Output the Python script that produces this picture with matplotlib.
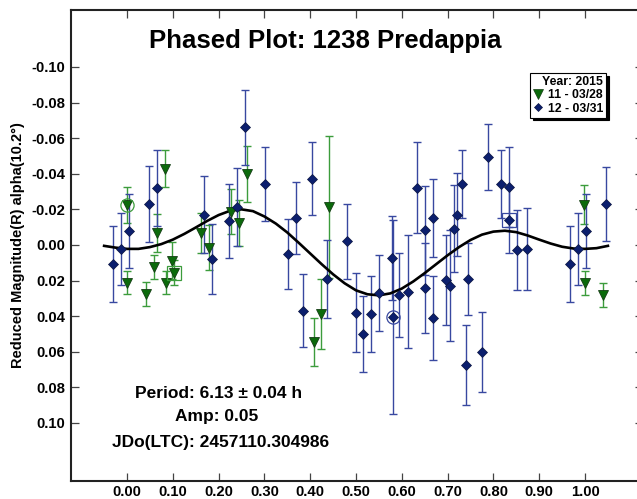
import matplotlib
matplotlib.use('Agg')
import matplotlib.pyplot as plt
from matplotlib.lines import Line2D

plt.rcParams['font.family'] = ['Liberation Sans', 'DejaVu Sans']
plt.rcParams['font.weight'] = 'bold'

# session 12 - 03/31 (blue diamonds)
blue_phase = [-0.031, -0.014, 0.005, 0.048, 0.065, 0.168, 0.186, 0.223, 0.240, 0.257,
              0.301, 0.352, 0.368, 0.385, 0.403, 0.437, 0.481, 0.499, 0.515, 0.533,
              0.550, 0.578, 0.581, 0.594, 0.614, 0.633, 0.650, 0.651, 0.668, 0.669,
              0.697, 0.705, 0.713, 0.721, 0.731, 0.740, 0.745, 0.774, 0.788, 0.816,
              0.834, 0.834, 0.852, 0.873, 0.967, 0.985, 1.002, 1.045]
blue_mag = [0.0107, 0.0023, -0.0081, -0.0230, -0.0322, -0.0170, 0.0080, -0.0133, -0.0212, -0.0661,
            -0.0343, 0.0051, -0.0153, 0.0369, -0.0373, 0.0191, -0.0021, 0.0380, 0.0500, 0.0388,
            0.0270, 0.0071, 0.0403, 0.0281, 0.0262, -0.0322, -0.0083, 0.0242, -0.0153, 0.0410,
            0.0198, 0.0228, -0.0092, -0.0170, -0.0344, 0.0672, 0.0191, 0.0601, -0.0493, -0.0343,
            -0.0324, -0.0140, 0.0028, 0.0022, 0.0109, 0.0022, -0.0081, -0.0230]
blue_err = [0.0211, 0.0203, 0.0208, 0.0213, 0.0213, 0.0215, 0.0198, 0.0208, 0.0218, 0.0211,
            0.0206, 0.0199, 0.0203, 0.0207, 0.0207, 0.0220, 0.0211, 0.0223, 0.0213, 0.0211,
            0.0215, 0.0236, 0.0546, 0.0234, 0.0316, 0.0257, 0.0250, 0.0251, 0.0218, 0.0236,
            0.0253, 0.0310, 0.0246, 0.0232, 0.0190, 0.0225, 0.0201, 0.0224, 0.0185, 0.0190,
            0.0225, 0.0187, 0.0225, 0.0231, 0.0213, 0.0203, 0.0208, 0.0210]

# session 11 - 03/28 (green triangles)
green_phase = [-0.001, 0.001, 0.041, 0.059, 0.065, 0.082, 0.085, 0.098, 0.103, 0.161,
               0.178, 0.226, 0.245, 0.261, 0.408, 0.424, 0.442, 0.998, 0.999, 1.040]
green_mag = [-0.0225, 0.0212, 0.0277, 0.0122, -0.0066, -0.0427, 0.0212, 0.0088, 0.0155, -0.0066,
             0.0015, -0.0187, -0.0125, -0.0399, 0.0543, 0.0388, -0.0215, -0.0225, 0.0215, 0.0281]
green_err = [0.0103, 0.0063, 0.0067, 0.0067, 0.0108, 0.0104, 0.0066, 0.0103, 0.0068, 0.0111,
             0.0125, 0.0126, 0.0129, 0.0157, 0.0135, 0.0198, 0.0398, 0.0110, 0.0066, 0.0067]

# marked points (circle / square)
circ_green = (-0.001, -0.0225)
circ_blue = (0.581, 0.0403)
box_green = (0.103, 0.0155)
box_blue = (0.834, -0.0140)

# fourier fit curve
fit_phase = [-0.050, -0.025, 0.000, 0.025, 0.050, 0.075, 0.100, 0.125, 0.150, 0.175,
             0.200, 0.225, 0.250, 0.275, 0.300, 0.325, 0.350, 0.375, 0.400, 0.425,
             0.450, 0.475, 0.500, 0.525, 0.550, 0.575, 0.600, 0.625, 0.650, 0.675,
             0.700, 0.725, 0.750, 0.775, 0.800, 0.825, 0.850, 0.875, 0.900, 0.925,
             0.950, 0.975, 1.000, 1.025, 1.050]
fit_mag = [0.0005, 0.0015, 0.0022, 0.0022, 0.0012, -0.0005, -0.0030, -0.0062, -0.0098, -0.0135,
           -0.0168, -0.0192, -0.0200, -0.0190, -0.0160, -0.0120, -0.0070, -0.0012, 0.0048, 0.0108,
           0.0165, 0.0215, 0.0255, 0.0277, 0.0283, 0.0272, 0.0245, 0.0205, 0.0158, 0.0108,
           0.0058, 0.0012, -0.0028, -0.0058, -0.0075, -0.0080, -0.0072, -0.0053, -0.0030, -0.0008,
           0.0010, 0.0020, 0.0022, 0.0018, 0.0005]

xticks = [0.0, 0.1, 0.2, 0.3, 0.4, 0.5, 0.6, 0.7, 0.8, 0.9, 1.0]
xtick_labels = ['0.00', '0.10', '0.20', '0.30', '0.40', '0.50', '0.60', '0.70', '0.80', '0.90', '1.00']
yticks = [-0.10, -0.08, -0.06, -0.04, -0.02, 0.0, 0.02, 0.04, 0.06, 0.08, 0.10]
ytick_labels = ['-0.10', '-0.08', '-0.06', '-0.04', '-0.02', '0.00', '0.02', '0.04', '0.06', '0.08', '0.10']

navy = '#0c1f6e'
navy_bar = '#3848a0'
dgreen = '#0b6a0b'
green_bar = '#3c9c3c'

fig = plt.figure(figsize=(6.37, 4.99), dpi=100)
ax = fig.add_axes([71 / 637, 18 / 499, 572 / 637, 471 / 499])

ax.errorbar(green_phase, green_mag, yerr=green_err, fmt='none', ecolor=green_bar,
            elinewidth=1.0, capsize=3, capthick=1.0, zorder=2)
ax.errorbar(blue_phase, blue_mag, yerr=blue_err, fmt='none', ecolor=navy_bar,
            elinewidth=1.0, capsize=3, capthick=1.0, zorder=2)

ax.plot(fit_phase, fit_mag, color='black', lw=1.9, zorder=3, solid_joinstyle='round')

ax.plot(green_phase, green_mag, 'v', ms=7.5, mfc=dgreen, mec='#143c14', mew=0.6, ls='none', zorder=4)
ax.plot(blue_phase, blue_mag, 'D', ms=4.8, mfc=navy, mec='#0a1440', mew=0.5, ls='none', zorder=4)

ax.plot(*circ_green, 'o', ms=9.5, mfc='none', mec=green_bar, mew=0.9, zorder=4)
ax.plot(*circ_blue, 'o', ms=9.5, mfc='none', mec=navy_bar, mew=0.9, zorder=4)
ax.plot(*box_green, 's', ms=10, mfc='none', mec=green_bar, mew=0.9, zorder=4)
ax.plot(*box_blue, 's', ms=9.5, mfc='none', mec=navy_bar, mew=0.9, zorder=4)

ax.set_xlim(-0.1223, 1.1266)
ax.set_ylim(0.1326, -0.132)
ax.set_xticks(xticks)
ax.set_xticklabels(xtick_labels)
ax.set_yticks(yticks)
ax.set_yticklabels(ytick_labels)
ax.tick_params(axis='both', direction='in', length=5.5, width=0.9, color='#444444',
               labelsize=10.7, pad=4, top=True, right=True)
ax.tick_params(axis='x', pad=3)
for lab in ax.get_xticklabels() + ax.get_yticklabels():
    lab.set_fontweight('bold')
for sp in ax.spines.values():
    sp.set_linewidth(1.5)
    sp.set_color('#222222')

ax.set_ylabel('Reduced Magnitude(R) alpha(10.2°)', fontsize=10.5, fontweight='bold')
ax.yaxis.set_label_coords(-0.08, 0.5)

fig.text(325 / 637, 1 - 41 / 499, 'Phased Plot: 1238 Predappia', ha='center', va='center',
         fontsize=18.5, fontweight='bold')

fig.text(219 / 637, 1 - 393 / 499, 'Period: 6.13 ± 0.04 h', ha='center', va='center',
         fontsize=12.5, fontweight='bold')
fig.text(217 / 637, 1 - 417 / 499, 'Amp: 0.05', ha='center', va='center',
         fontsize=12.5, fontweight='bold')
fig.text(221 / 637, 1 - 442 / 499, 'JDo(LTC): 2457110.304986', ha='center', va='center',
         fontsize=12.5, fontweight='bold')

handles = [Line2D([], [], marker='v', ls='none', ms=6.5, mfc=dgreen, mec='#143c14', mew=0.5),
           Line2D([], [], marker='D', ls='none', ms=4.2, mfc=navy, mec='#0a1440', mew=0.5)]
leg = ax.legend(handles, ['11 - 03/28', '12 - 03/31'], title='Year: 2015',
                loc='upper right', bbox_to_anchor=(606 / 637, 1 - 73 / 499),
                bbox_transform=fig.transFigure, fontsize=8.8,
                title_fontproperties={'weight': 'bold', 'size': 8.8},
                prop={'weight': 'bold', 'size': 8.8},
                frameon=True, fancybox=False, framealpha=1, edgecolor='black',
                shadow={'color': 'black', 'alpha': 1.0},
                borderpad=0.25, labelspacing=0.1, handlelength=0.8, handletextpad=0.4,
                borderaxespad=0, alignment='right')
leg.get_frame().set_linewidth(0.8)

fig.savefig('out.png', dpi=100)
